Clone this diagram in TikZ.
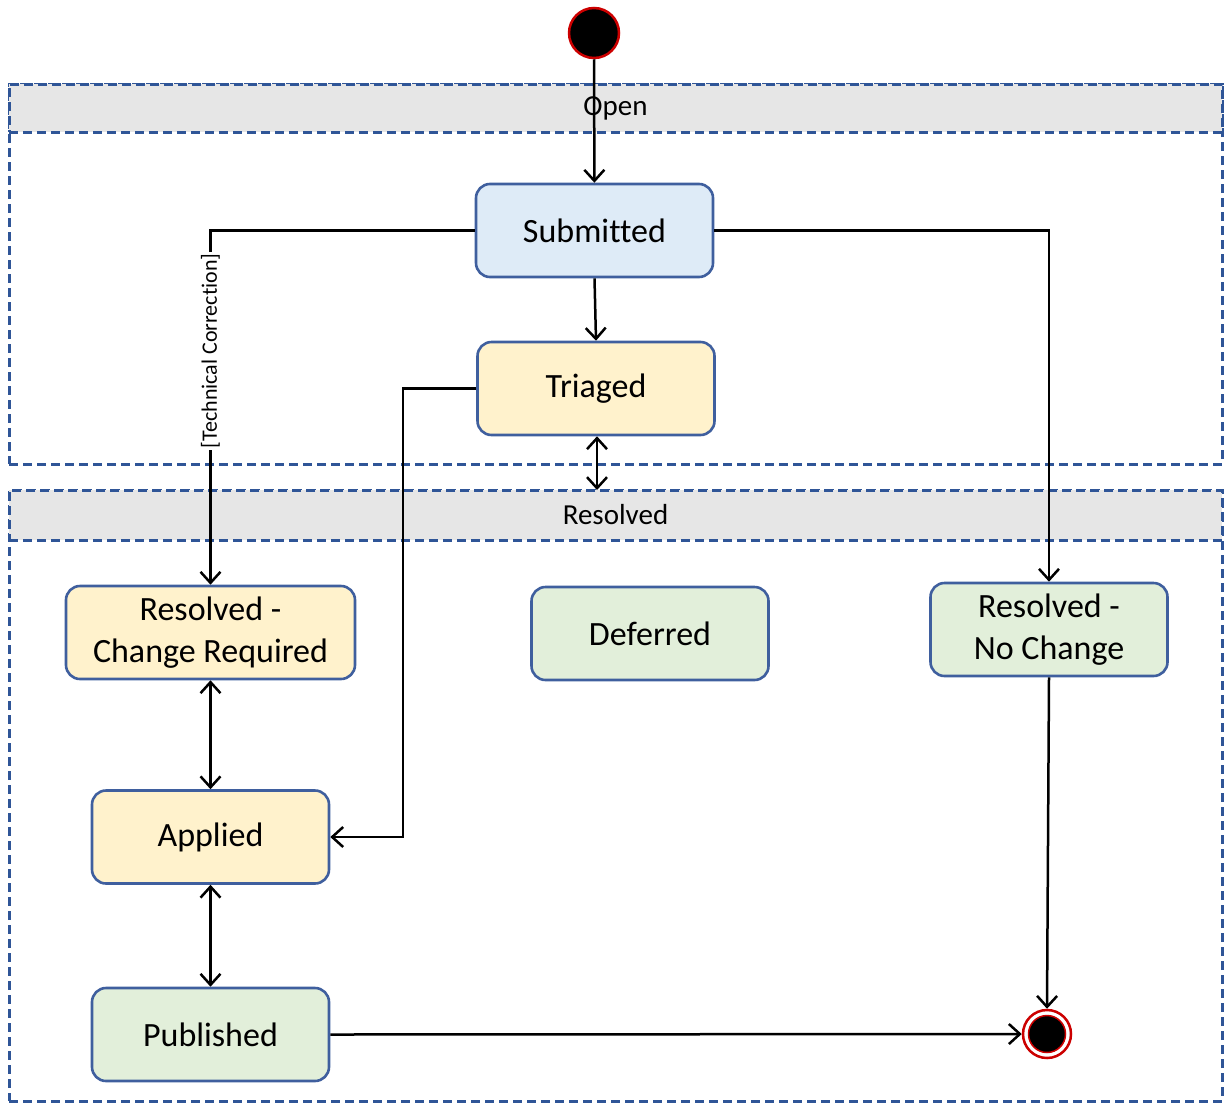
\documentclass[tikz,border=0pt]{standalone}
\usepackage{fontspec}
\setmainfont{Carlito}[Ligatures=NoCommon]
\usetikzlibrary{arrows.meta}
\definecolor{lanec}{HTML}{2F5597}
\definecolor{boxb}{HTML}{3F5F9E}
\definecolor{fblue}{HTML}{DEEBF7}
\definecolor{fyellow}{HTML}{FFF2CC}
\definecolor{fgreen}{HTML}{E2EFDA}
\definecolor{hgray}{HTML}{E6E6E6}
\definecolor{startred}{HTML}{CC0000}
\tikzset{
  lane/.style={draw=lanec, line width=3pt, dash pattern=on 9pt off 5pt, rectangle, minimum width=1213pt, inner sep=0pt},
  header/.style={lane, fill=hgray, minimum height=48pt, font=\fontsize{29}{32}\selectfont},
  state/.style={draw=boxb, line width=2.6pt, rounded corners=14pt, rectangle, inner sep=0pt, minimum width=237pt, minimum height=93pt, align=center, font=\fontsize{34}{42}\selectfont},
  conn/.style={line width=2.5pt, -{Straight Barb[length=11pt,width=20pt,line width=2.5pt]}},
  dconn/.style={line width=2.5pt, {Straight Barb[length=11pt,width=20pt,line width=2.5pt]}-{Straight Barb[length=11pt,width=20pt,line width=2.5pt]}},
}
\begin{document}
\begin{tikzpicture}[x=1pt,y=-1pt]
\useasboundingbox (0,0) rectangle (1225,1103);
% swimlanes
\node[lane, minimum height=380pt] (openlane) at (615.5,274) {};
\node[header] (openhdr) at (615.5,108) {\raisebox{-2pt}{Open}};
\node[lane, minimum height=611pt] (reslane) at (615.5,795.5) {};
\node[header, minimum height=50pt] (reshdr) at (615.5,515) {Resolved};
\coordinate (restop) at (597,490);
% states
\node[state, fill=fblue] (sub) at (594.5,230.5) {Submitted};
\node[state, fill=fyellow] (tri) at (596,388.5) {Triaged};
\node[state, fill=fyellow, minimum width=289pt] (rcr) at (210.5,632.5) {Resolved -\\Change Required};
\node[state, fill=fgreen] (def) at (650,633.5) {Deferred};
\node[state, fill=fgreen] (rnc) at (1049,629.5) {Resolved -\\No Change};
\node[state, fill=fyellow] (app) at (210.5,837) {Applied};
\node[state, fill=fgreen] (pub) at (210.5,1034.5) {Published};
% start / end
\node[circle, fill=black, draw=startred, line width=2.5pt, minimum size=50pt, inner sep=0pt] (start) at (594,33) {};
\node[circle, draw=startred, line width=2.5pt, minimum size=48pt, inner sep=0pt] (endo) at (1047,1034) {};
\node[circle, fill=black, draw=startred, line width=1.5pt, minimum size=37pt, inner sep=0pt] (endi) at (1047,1034) {};
% connectors
\draw[conn] (start) -- (sub);
\draw[conn] (sub.south) -- (tri.north);
\draw[conn] (sub.west) -| node[pos=0.67, fill=white, rotate=90, inner sep=2pt, font=\fontsize{22}{24}\selectfont] {[Technical Correction]} (rcr.north);
\draw[conn] (sub.east) -| (rnc.north);
\draw[dconn] (tri.south -| restop) -- (restop);
\draw[conn] (tri.west) -- (403,388.5) |- (app.east);
\draw[dconn] (rcr.south) -- (app.north);
\draw[dconn] (app.south) -- (pub.north);
\draw[conn] (pub.east) -- (endo.west);
\draw[conn] (rnc.south) -- (endo.north);
\end{tikzpicture}
\end{document}
